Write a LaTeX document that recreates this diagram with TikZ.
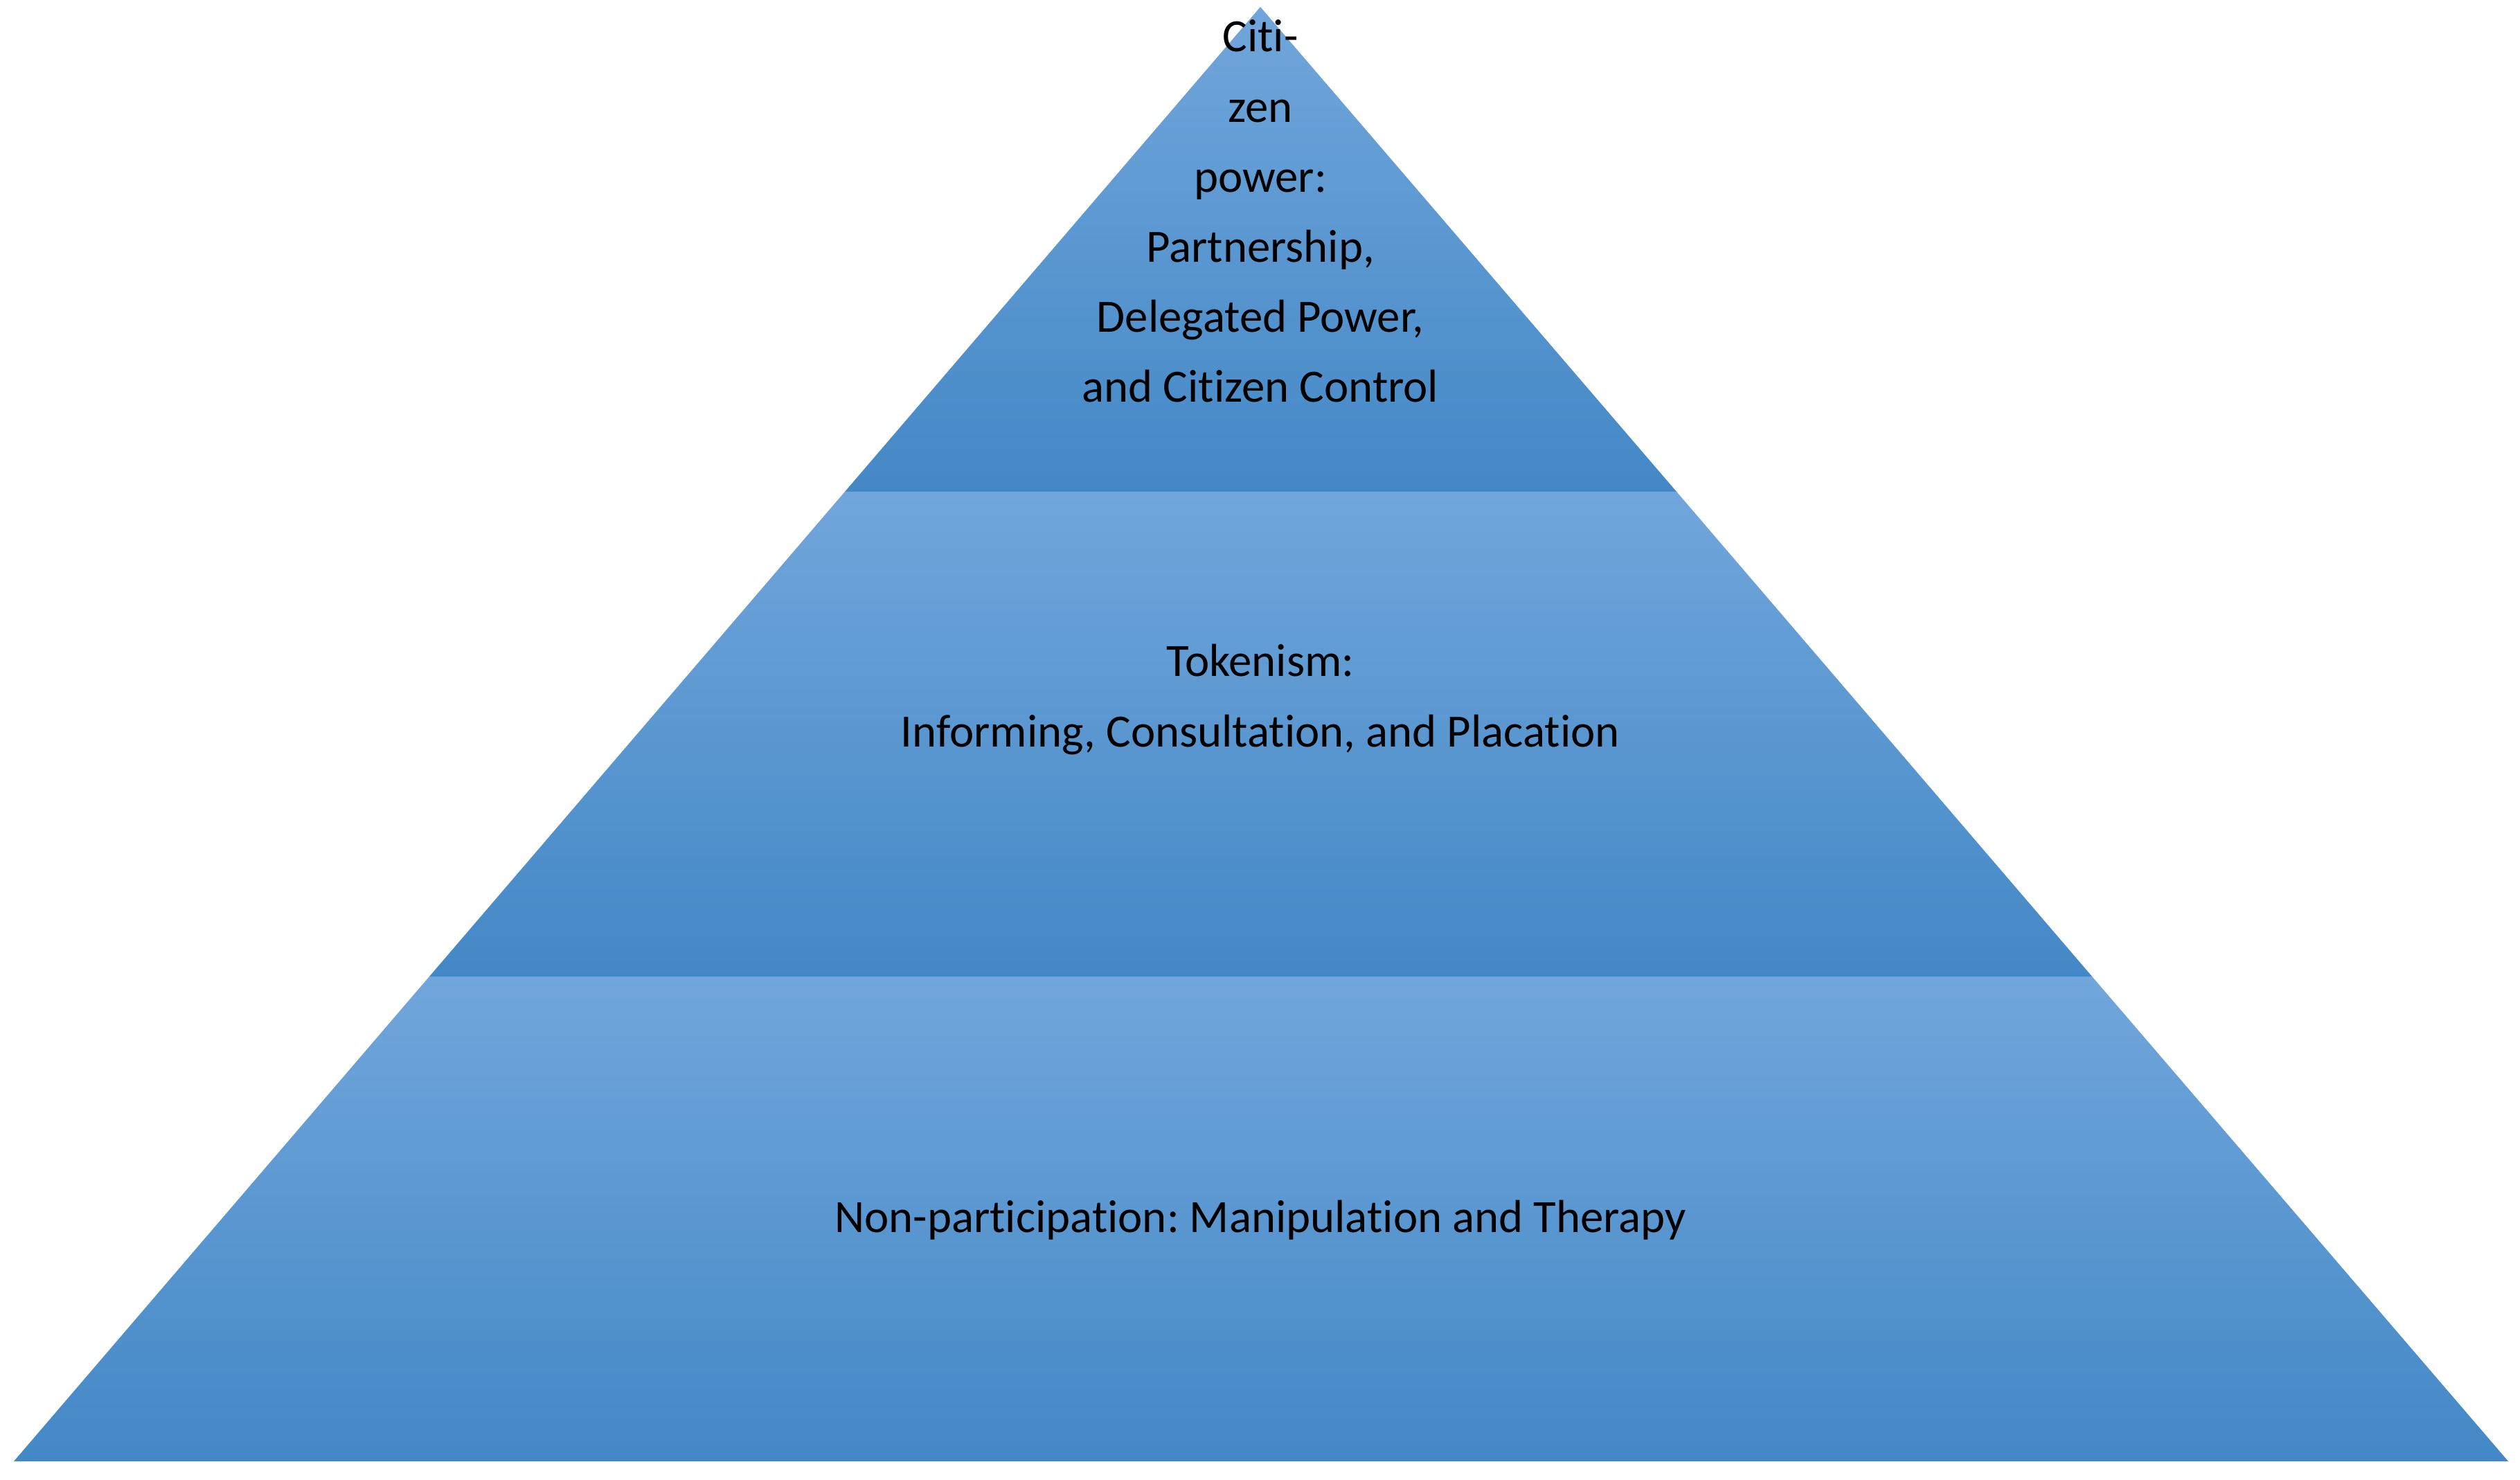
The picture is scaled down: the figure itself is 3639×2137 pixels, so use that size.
\documentclass[tikz,border=0pt]{standalone}
\usepackage{fontspec}
\setmainfont{Carlito}[RawFeature=-liga]
\frenchspacing
\definecolor{bandtop}{HTML}{71A6DB}
\definecolor{bandmid}{HTML}{569CDE}
\definecolor{bandbot}{HTML}{4388C6}
\tikzset{
  band/.style={top color=bandtop, middle color=bandmid, bottom color=bandbot, draw=none},
  lbl/.style={align=center, inner sep=0pt, anchor=base, text=black,
    font=\fontsize{16.7pt}{25.3pt}\selectfont}
}
\begin{document}
\begin{tikzpicture}[x=0.25pt,y=-0.25pt]
\useasboundingbox (0,0) rectangle (3639,2137);
\fill[white] (0,0) rectangle (3639,2137);
% corners
\coordinate (apex) at (1820,10);
\coordinate (l1) at (1220,710);
\coordinate (r1) at (2421,710);
\coordinate (l2) at (620,1410);
\coordinate (r2) at (3021,1410);
\coordinate (bl) at (20,2110);
\coordinate (br) at (3622,2110);
% bands
\shade[band] (apex) -- (r1) -- (l1) -- cycle;
\shade[band] (l1) -- (r1) -- (r2) -- (l2) -- cycle;
\shade[band] (l2) -- (r2) -- (br) -- (bl) -- cycle;
% labels (anchor base = baseline of the last line)
\node[lbl] (top) at (1820,581) {Citi-\\zen\\power:\\Partnership,\\Delegated Power,\\and Citizen Control};
\node[lbl] (mid) at (1820,1078) {Tokenism:\\Informing, Consultation, and Placation};
\node[lbl] (bot) at (1820,1779) {Non-participation: Manipulation and Therapy};
\end{tikzpicture}
\end{document}
